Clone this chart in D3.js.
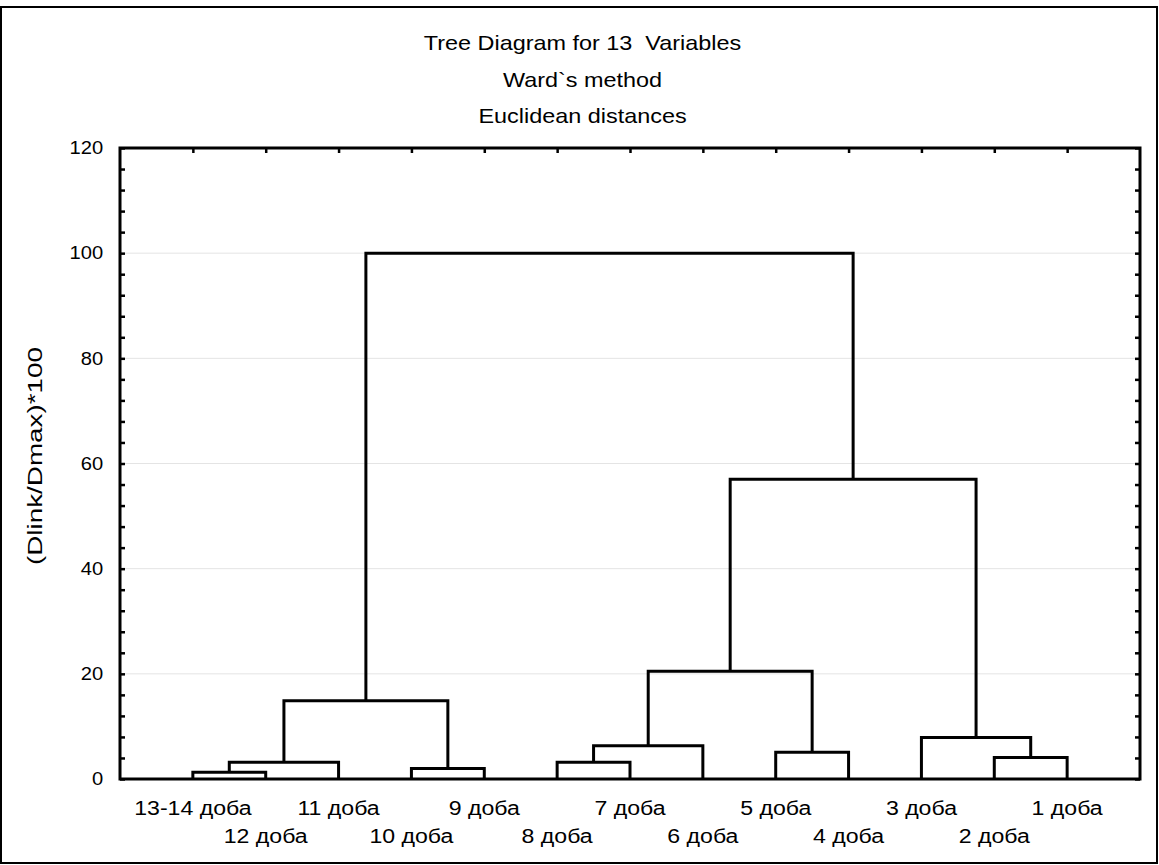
<!DOCTYPE html>
<html>
<head>
<meta charset="utf-8">
<script src="https://d3js.org/d3.v7.min.js"></script>
<style>
  body { margin: 0; background: #fff; }
  text { font-family: "Liberation Sans", Arial, sans-serif; fill: #000; white-space: pre; }
</style>
</head>
<body>
<div id="chart"></div>
<script>
// leaves in dendrogram order (left to right)
var leaves = ["13-14 доба", "12 доба", "11 доба", "10 доба", "9 доба", "8 доба", "7 доба",
  "6 доба", "5 доба", "4 доба", "3 доба", "2 доба", "1 доба"];

// merges, in order: the result of merge i is called "C" + (i + 1)
var linkLeft   = ["13-14 доба", "C1", "10 доба", "C2", "8 доба", "C5", "5 доба", "C6", "2 доба", "3 доба", "C8", "C4"];
var linkRight  = ["12 доба", "11 доба", "9 доба", "C3", "7 доба", "6 доба", "4 доба", "C7", "1 доба", "C9", "C10", "C11"];
var linkHeight = [1.3, 3.2, 2.0, 14.9, 3.2, 6.3, 5.1, 20.5, 4.1, 7.9, 57.0, 100];

var yTicks = [0, 20, 40, 60, 80, 100, 120];
var titleLines = ["Tree Diagram for 13  Variables", "Ward`s method", "Euclidean distances"];
var yLabel = "(Dlink/Dmax)*100";

var svgWidth = 1159;
var svgHeight = 865;
var margin = { top: 148, right: 19, bottom: 86, left: 120 };
var width = svgWidth - margin.left - margin.right;
var height = svgHeight - margin.top - margin.bottom;

var svg = d3.select("#chart")
  .append("svg")
  .attr("width", svgWidth)
  .attr("height", svgHeight);

// outer frame
svg.append("rect")
  .attr("x", 1).attr("y", 7)
  .attr("width", svgWidth - 3).attr("height", svgHeight - 9)
  .attr("fill", "none").attr("stroke", "#000").attr("stroke-width", 2);

var chartGroup = svg.append("g")
  .attr("transform", `translate(${margin.left}, ${margin.top})`);

var xScale = d3.scalePoint()
  .domain(leaves)
  .range([0, width])
  .padding(1);

var yScale = d3.scaleLinear()
  .domain([0, 120])
  .range([height, 0]);

// gridlines
chartGroup.append("g")
  .selectAll("line")
  .data(yTicks.filter(d => d > 0 && d < 120))
  .enter()
  .append("line")
  .attr("x1", 0).attr("x2", width)
  .attr("y1", d => yScale(d)).attr("y2", d => yScale(d))
  .attr("stroke", "#e4e4e4").attr("stroke-width", 1);

// axes with inward ticks
var minorTicks = d3.range(0, 121, 4);

var leftAxis = chartGroup.append("g")
  .call(d3.axisLeft(yScale).tickValues(minorTicks).tickSizeInner(-5).tickSizeOuter(0).tickPadding(15)
    .tickFormat(d => yTicks.indexOf(d) >= 0 ? d : ""));
var rightAxis = chartGroup.append("g")
  .attr("transform", `translate(${width}, 0)`)
  .call(d3.axisRight(yScale).tickValues(minorTicks).tickSizeInner(-5).tickSizeOuter(0).tickFormat(""));
var topAxis = chartGroup.append("g")
  .call(d3.axisTop(xScale).tickSizeInner(-5).tickSizeOuter(0).tickFormat(""));

chartGroup.selectAll(".domain").remove();
chartGroup.selectAll(".tick line").attr("stroke", "#000").attr("stroke-width", 2.5);

leftAxis.selectAll("text")
  .attr("font-size", "18px")
  .attr("font-family", "Liberation Sans, Arial, sans-serif")
  .attr("fill", "#000")
  .attr("transform", "scale(1.12,1)");

// plot frame
chartGroup.append("rect")
  .attr("x", 0).attr("y", 0)
  .attr("width", width).attr("height", height)
  .attr("fill", "none").attr("stroke", "#000").attr("stroke-width", 3);

// dendrogram links
var nodeX = {};
var nodeH = {};
leaves.forEach(function(l) {
  nodeX[l] = xScale(l);
  nodeH[l] = 0;
});
var links = linkLeft.map(function(l, i) {
  var r = linkRight[i];
  var id = "C" + (i + 1);
  nodeX[id] = (nodeX[l] + nodeX[r]) / 2;
  nodeH[id] = linkHeight[i];
  return { left: l, right: r, h: linkHeight[i] };
});

chartGroup.append("g")
  .selectAll("path")
  .data(links)
  .enter()
  .append("path")
  .attr("d", d => `M${nodeX[d.left]},${yScale(nodeH[d.left])}V${yScale(d.h)}H${nodeX[d.right]}V${yScale(nodeH[d.right])}`)
  .attr("fill", "none")
  .attr("stroke", "#000")
  .attr("stroke-width", 3)
  .attr("stroke-linejoin", "miter");

// bottom labels in two staggered rows
chartGroup.append("g")
  .selectAll("text")
  .data(leaves)
  .enter()
  .append("text")
  .attr("transform", (d, i) => `translate(${xScale(d)}, ${i % 2 === 0 ? height + 36 : height + 64}) scale(1.1,1)`)
  .attr("text-anchor", "middle")
  .attr("font-size", "21px")
  .text(d => d);

// titles
svg.append("g")
  .selectAll("text")
  .data(titleLines)
  .enter()
  .append("text")
  .attr("transform", (d, i) => `translate(${svgWidth / 2 + 3}, ${50 + i * 36.5}) scale(1.115,1)`)
  .attr("text-anchor", "middle")
  .attr("font-size", "21px")
  .text(d => d);

// y axis label
svg.append("text")
  .attr("transform", `translate(42, 456) rotate(-90)`)
  .attr("text-anchor", "middle")
  .attr("font-size", "21px")
  .attr("textLength", 218)
  .attr("lengthAdjust", "spacingAndGlyphs")
  .text(yLabel);
</script>
</body>
</html>
